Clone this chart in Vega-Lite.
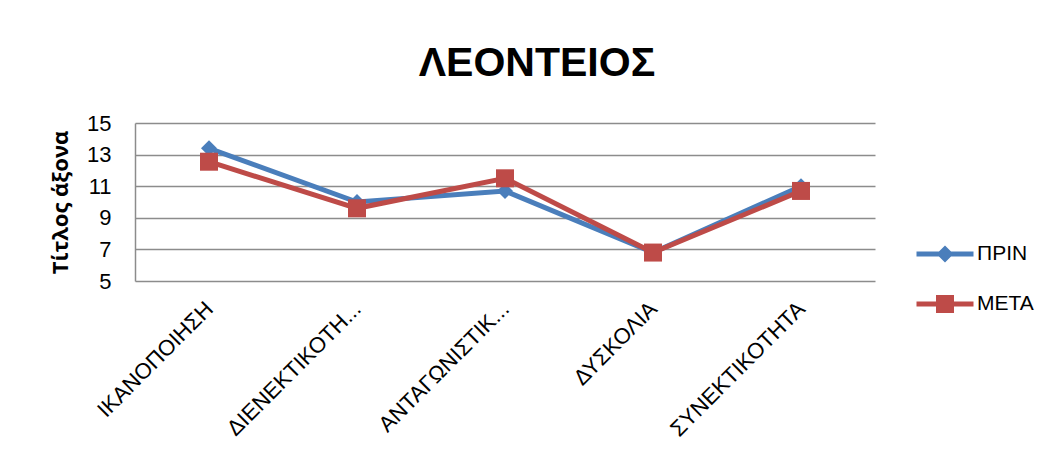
{
  "$schema": "https://vega.github.io/schema/vega-lite/v6.json",
  "autosize": {"type": "none"},
  "width": 740,
  "height": 158,
  "padding": {"left": 135, "top": 123, "right": 178, "bottom": 176},
  "background": "white",
  "view": {"stroke": null},
  "title": {
    "text": "ΛΕΟΝΤΕΙΟΣ",
    "font": "Liberation Sans",
    "fontSize": 41,
    "fontWeight": "bold",
    "color": "black",
    "anchor": "middle",
    "baseline": "alphabetic",
    "dx": 32,
    "offset": -5
  },
  "data": {
    "values": [
      {"category": "ΙΚΑΝΟΠΟΙΗΣΗ", "series": "ΠΡΙΝ", "value": 13.4},
      {"category": "ΔΙΕΝΕΚΤΙΚΟΤΗ...", "series": "ΠΡΙΝ", "value": 10.0},
      {"category": "ΑΝΤΑΓΩΝΙΣΤΙΚ...", "series": "ΠΡΙΝ", "value": 10.7},
      {"category": "ΔΥΣΚΟΛΙΑ", "series": "ΠΡΙΝ", "value": 6.8},
      {"category": "ΣΥΝΕΚΤΙΚΟΤΗΤΑ", "series": "ΠΡΙΝ", "value": 11.0},
      {"category": "ΙΚΑΝΟΠΟΙΗΣΗ", "series": "ΜΕΤΑ", "value": 12.55},
      {"category": "ΔΙΕΝΕΚΤΙΚΟΤΗ...", "series": "ΜΕΤΑ", "value": 9.6},
      {"category": "ΑΝΤΑΓΩΝΙΣΤΙΚ...", "series": "ΜΕΤΑ", "value": 11.5},
      {"category": "ΔΥΣΚΟΛΙΑ", "series": "ΜΕΤΑ", "value": 6.8},
      {"category": "ΣΥΝΕΚΤΙΚΟΤΗΤΑ", "series": "ΜΕΤΑ", "value": 10.7}
    ]
  },
  "encoding": {
    "x": {
      "field": "category",
      "type": "nominal",
      "sort": null,
      "axis": {
        "title": null,
        "labelAngle": -45,
        "labelAlign": "right",
        "labelBaseline": "middle",
        "labelFont": "Liberation Sans",
        "labelFontSize": 22,
        "labelColor": "black",
        "labelPadding": 24,
        "labelLimit": 400,
        "ticks": false,
        "domain": false
      }
    },
    "y": {
      "field": "value",
      "type": "quantitative",
      "scale": {"domain": [5, 15], "nice": false, "zero": false},
      "axis": {
        "values": [5, 7, 9, 11, 13, 15],
        "title": "Τίτλος άξονα",
        "titleFont": "Open Sans",
        "titleFontSize": 22,
        "titleFontWeight": "bold",
        "titleColor": "black",
        "titlePadding": 14,
        "labelFont": "Liberation Sans",
        "labelFontSize": 22,
        "labelColor": "black",
        "labelPadding": 24,
        "ticks": false,
        "domainColor": "#8c8c8c",
        "domainWidth": 1.5,
        "gridColor": "#8c8c8c",
        "gridWidth": 1.5
      }
    },
    "color": {
      "field": "series",
      "type": "nominal",
      "scale": {"domain": ["ΠΡΙΝ", "ΜΕΤΑ"], "range": ["#4A7EBB", "#BE4B48"]},
      "legend": {
        "orient": "none",
        "legendX": 795,
        "legendY": 116,
        "title": null,
        "padding": 0,
        "symbolSize": 900,
        "labelOffset": 17,
        "rowPadding": 25,
        "labelFont": "Liberation Sans",
        "labelFontSize": 21,
        "labelColor": "black",
        "symbolStrokeWidth": 0,
        "symbolOpacity": 1
      }
    }
  },
  "layer": [
    {"mark": {"type": "line", "strokeWidth": 5}},
    {
      "transform": [{"filter": "datum.series === 'ΠΡΙΝ'"}],
      "mark": {"type": "point", "filled": true, "opacity": 1, "shape": "diamond", "size": 256}
    },
    {
      "transform": [{"filter": "datum.series === 'ΜΕΤΑ'"}],
      "mark": {"type": "point", "filled": true, "opacity": 1, "shape": "square", "size": 324}
    },
    {
      "transform": [{"filter": "false"}],
      "mark": {"type": "point", "filled": true, "opacity": 1},
      "encoding": {
        "shape": {
          "field": "series",
          "type": "nominal",
          "scale": {
            "domain": ["ΠΡΙΝ", "ΜΕΤΑ"],
            "range": [
              "M-1.9,-0.167H1.9V0.167H-1.9Z M-0.57,0L0,-0.57L0.57,0L0,0.57Z",
              "M-1.9,-0.167H1.9V0.167H-1.9Z M-0.6,-0.6H0.6V0.6H-0.6Z"
            ]
          },
          "legend": {
            "orient": "none",
            "legendX": 795,
            "legendY": 116,
            "title": null,
            "padding": 0,
            "symbolSize": 900,
            "labelOffset": 17,
            "rowPadding": 25,
            "labelFont": "Liberation Sans",
            "labelFontSize": 21,
            "labelColor": "black",
            "symbolStrokeWidth": 0,
            "symbolOpacity": 1
          }
        }
      }
    }
  ]
}
